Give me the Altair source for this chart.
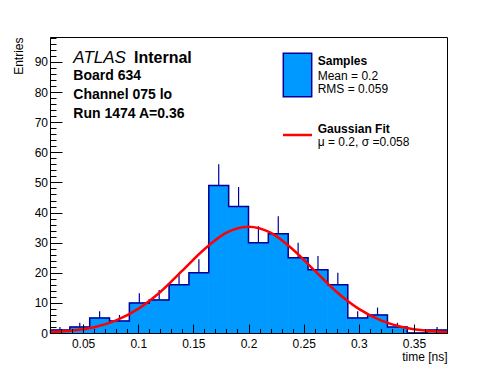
import altair as alt
import pandas as pd

# ---------------- data ----------------
bin_lo = [0.020, 0.038, 0.056, 0.074, 0.092, 0.110, 0.128, 0.146, 0.164, 0.182,
          0.200, 0.218, 0.236, 0.254, 0.272, 0.290, 0.308, 0.326, 0.344, 0.362]
bin_hi = [0.038, 0.056, 0.074, 0.092, 0.110, 0.128, 0.146, 0.164, 0.182, 0.200,
          0.218, 0.236, 0.254, 0.272, 0.290, 0.308, 0.326, 0.344, 0.362, 0.380]
counts = [1, 2, 5, 4, 10, 11, 16, 20, 49, 42, 30, 33, 25, 21, 16, 5, 6, 2, 0, 1]
errors = [1.0, 1.41, 2.24, 2.0, 3.16, 3.32, 4.0, 4.47, 7.0, 6.48,
          5.48, 5.74, 5.0, 4.58, 4.0, 2.24, 2.45, 1.41, 0.0, 1.0]

fit_t = [0.02, 0.04, 0.06, 0.08, 0.10, 0.12, 0.14, 0.16, 0.18, 0.20,
         0.22, 0.24, 0.26, 0.28, 0.30, 0.32, 0.34, 0.36, 0.38]
fit_y = [0.3, 0.8, 1.9, 4.2, 8.0, 13.6, 20.7, 27.8, 33.3, 35.3,
         33.3, 27.8, 20.7, 13.6, 8.0, 4.2, 1.9, 0.8, 0.3]

x_major = [0.05, 0.10, 0.15, 0.20, 0.25, 0.30, 0.35]
x_minor = [0.02, 0.03, 0.04, 0.06, 0.07, 0.08, 0.09, 0.11, 0.12, 0.13, 0.14,
           0.16, 0.17, 0.18, 0.19, 0.21, 0.22, 0.23, 0.24, 0.26, 0.27, 0.28,
           0.29, 0.31, 0.32, 0.33, 0.34, 0.36, 0.37, 0.38]
y_major = [0, 10, 20, 30, 40, 50, 60, 70, 80, 90]
y_minor = [2, 4, 6, 8, 12, 14, 16, 18, 22, 24, 26, 28, 32, 34, 36, 38, 42, 44,
           46, 48, 52, 54, 56, 58, 62, 64, 66, 68, 72, 74, 76, 78, 82, 84, 86,
           88, 92, 94, 96, 98]

x_domain = [0.02, 0.38]
y_domain = [0, 98.3]

header_lines = ["Board 634", "Channel 075 lo", "Run 1474 A=0.36"]
legend_hist = ["Samples", "Mean = 0.2", "RMS = 0.059"]
legend_fit = ["Gaussian Fit", "\u03bc = 0.2, \u03c3 =0.058"]

# ---------------- tables ----------------
hist = pd.DataFrame({"lo": bin_lo, "hi": bin_hi, "count": counts, "err": errors})
hist["mid"] = (hist["lo"] + hist["hi"]) / 2
hist["top"] = hist["count"] + hist["err"]
errdf = hist[hist["err"] > 0]

step = pd.DataFrame({"t": bin_lo + [bin_hi[-1]], "v": counts + [counts[-1]]})
fit = pd.DataFrame({"t": fit_t, "y": fit_y})
one = pd.DataFrame({"k": [0]})

W, H = 397, 296
FONT = "Liberation Sans"
FILL = "#0099ff"
EDGE = "#000099"
RED = "#ff0000"

xs = alt.Scale(domain=x_domain, nice=False, zero=False)
ys = alt.Scale(domain=y_domain, nice=False, zero=False)

# label axes (bottom/left)
ax_x_lab = alt.Axis(orient="bottom", values=x_major, format="~g", ticks=False,
                    labelPadding=5, labelFontSize=12, labelFont=FONT, labelColor="black",
                    labelOverlap=False, labelFlush=False, grid=False,
                    domain=True, domainColor="black", domainWidth=1, zindex=1,
                    title="time [ns]", titleFont=FONT, titleFontSize=12,
                    titleFontWeight="normal", titleColor="black",
                    titleAlign="right", titleBaseline="alphabetic",
                    titleX=W, titleY=27.5)
ax_y_lab = alt.Axis(orient="left", values=y_major, ticks=False,
                    labelPadding=2.5, labelFontSize=12, labelFont=FONT, labelColor="black",
                    labelOverlap=False, labelFlush=False, grid=False,
                    domain=True, domainColor="black", domainWidth=1, zindex=1,
                    title="Entries", titleFont=FONT, titleFontSize=12,
                    titleFontWeight="normal", titleColor="black",
                    titleAngle=270, titleAlign="right", titleBaseline="middle",
                    titleX=-32, titleY=0)

def tick_axis_x(vals, size):
    return alt.Axis(orient="top", offset=-H, values=vals, labels=False, domain=False,
                    grid=False, ticks=True, tickSize=size, tickColor="black",
                    tickWidth=1, zindex=1, title=None)

def tick_axis_y(vals, size):
    return alt.Axis(orient="right", offset=-W, values=vals, labels=False, domain=False,
                    grid=False, ticks=True, tickSize=size, tickColor="black",
                    tickWidth=1, zindex=1, title=None)

bars = alt.Chart(hist).mark_rect(color=FILL, stroke=FILL, strokeWidth=0.8).encode(
    x=alt.X("lo:Q", scale=xs, axis=ax_x_lab),
    x2="hi:Q",
    y=alt.Y("count:Q", scale=ys, axis=ax_y_lab),
    y2=alt.datum(0),
)

outline = alt.Chart(step).mark_line(interpolate="step-after", color=EDGE,
                                    strokeWidth=1.5).encode(
    x=alt.X("t:Q", scale=xs, axis=tick_axis_x(x_major, 9)),
    y=alt.Y("v:Q", scale=ys, axis=tick_axis_y(y_major, 12)),
)

errbars = alt.Chart(errdf).mark_rule(color=EDGE, strokeWidth=1.2).encode(
    x=alt.X("mid:Q", scale=xs, axis=tick_axis_x(x_minor, 4.5)),
    y=alt.Y("count:Q", scale=ys, axis=tick_axis_y(y_minor, 6)),
    y2="top:Q",
)

curve = alt.Chart(fit).mark_line(color=RED, strokeWidth=2.5,
                                 interpolate="monotone").encode(
    x=alt.X("t:Q", scale=xs, axis=None),
    y=alt.Y("y:Q", scale=ys, axis=None),
)


def label(txt, x, y, size, weight="normal", style="normal"):
    return alt.Chart(one).mark_text(text=txt, font=FONT, fontSize=size,
                                    fontWeight=weight, fontStyle=style,
                                    align="left", baseline="alphabetic",
                                    color="black").encode(
        x=alt.value(x), y=alt.value(y))


texts = [
    label("ATLAS", 23.3, 25.7, 17, "normal", "italic"),
    label("Internal", 84, 25.7, 16, "bold"),
    label(header_lines[0], 23.3, 42.5, 14, "bold"),
    label(header_lines[1], 23.3, 61.5, 14, "bold"),
    label(header_lines[2], 23.3, 80.5, 14, "bold"),
    label(legend_hist[0], 267.7, 28, 12, "bold"),
    label(legend_hist[1], 267.7, 42.5, 12),
    label(legend_hist[2], 267.7, 55.8, 12),
    label(legend_fit[0], 267.7, 95.5, 12, "bold"),
    label(legend_fit[1], 267.7, 108.5, 12),
]

leg_box = alt.Chart(one).mark_rect(color=FILL, stroke=EDGE, strokeWidth=1.5).encode(
    x=alt.value(233.3), x2=alt.value(261.7), y=alt.value(16.3), y2=alt.value(59.7))
leg_line = alt.Chart(one).mark_rule(color=RED, strokeWidth=2.5).encode(
    x=alt.value(233), x2=alt.value(262), y=alt.value(98))

chart = alt.layer(bars, errbars, outline, curve, leg_box, leg_line, *texts).resolve_axis(
    x="independent", y="independent"
).properties(
    width=W, height=H, autosize="none",
    padding={"left": 42, "top": 29, "right": 41, "bottom": 39},
).configure_view(stroke="black", strokeWidth=1)

chart.save("out.html", embed_options={"renderer": "svg", "actions": False})
